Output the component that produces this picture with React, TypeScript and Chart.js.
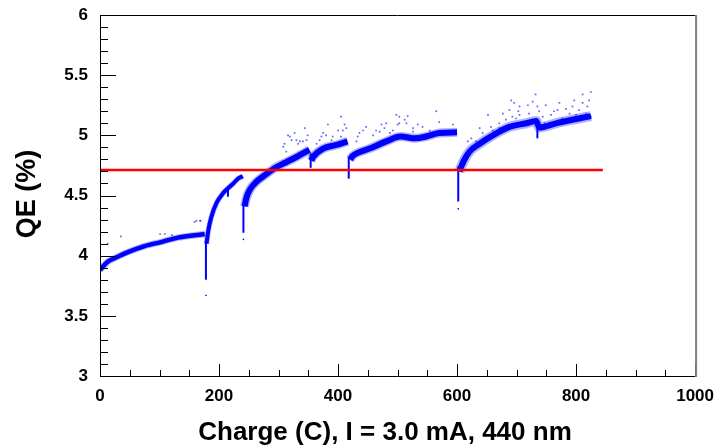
import React, { useEffect, useRef } from "react";
import { Chart, registerables } from "chart.js";
Chart.register(...registerables);

// ---- axes ----
const xMin = 0;
const xMax = 1000;
const xMajorStep = 200;
const xMinorStep = 50;
const yMin = 3;
const yMax = 6;
const yMajorStep = 0.5;
const yMinorStep = 0.1;
const xTitle = "Charge (C), I = 3.0 mA, 440 nm";
const yTitle = "QE (%)";

// ---- main band, one array pair per run ----
const seg1Charge = [0, 5, 13, 25, 47, 75, 104, 131, 159, 176];
const seg1QE = [3.88, 3.91, 3.95, 3.98, 4.03, 4.08, 4.115, 4.15, 4.17, 4.18];

const seg2Charge = [179, 182, 187, 196, 207, 215, 224, 232, 240];
const seg2QE = [4.1, 4.21, 4.32, 4.44, 4.52, 4.56, 4.6, 4.64, 4.66];

const seg3Charge = [243, 246, 252, 263, 280, 296, 310, 330, 352];
const seg3QE = [4.41, 4.48, 4.55, 4.615, 4.68, 4.735, 4.77, 4.82, 4.88];

const seg4Charge = [355, 358, 375, 397, 416];
const seg4QE = [4.79, 4.82, 4.89, 4.92, 4.95];

const seg5Charge = [420, 425, 431, 453, 481, 505, 530, 548, 570, 600];
const seg5QE = [4.8, 4.83, 4.85, 4.89, 4.95, 4.99, 4.975, 4.99, 5.02, 5.025];

const seg6Charge = [604, 607, 612, 621, 638, 660, 688, 716, 733, 738, 766, 794, 825];
const seg6QE = [4.7, 4.74, 4.795, 4.865, 4.93, 5.0, 5.07, 5.1, 5.12, 5.065, 5.1, 5.13, 5.16];

const segments = [
  { charge: seg1Charge, qe: seg1QE },
  { charge: seg2Charge, qe: seg2QE },
  { charge: seg3Charge, qe: seg3QE },
  { charge: seg4Charge, qe: seg4QE },
  { charge: seg5Charge, qe: seg5QE },
  { charge: seg6Charge, qe: seg6QE },
];

// ---- sharp dips at the start of runs ----
const spikeCharge = [178, 215, 241, 354, 418, 602, 735];
const spikeLow = [3.8, 4.49, 4.19, 4.73, 4.64, 4.45, 4.975];
const spikeHigh = [4.12, 4.56, 4.42, 4.85, 4.82, 4.74, 5.12];

// ---- isolated low points ----
const lowCharge = [178, 241, 602];
const lowQE = [3.67, 4.135, 4.39];

// ---- scattered points above the band ----
const strayCharge = [
  13, 35, 101, 109, 121, 159, 162, 168, 169,
  308, 310, 313, 316, 319, 322, 327, 330, 333, 336, 341, 344, 347, 349, 364, 369, 372, 375,
  380, 383, 389, 391, 400, 405, 405, 408, 411, 414,
  431, 433, 436, 442, 447, 459, 464, 470, 473, 478, 481, 487, 492, 498, 500, 503, 503,
  512, 515, 517, 526, 526, 534, 542, 554, 565, 570, 593,
  618, 624, 632, 638, 643, 652, 657, 660, 671, 671, 677, 682, 688, 691, 693, 696, 699,
  703, 705, 705, 710, 719, 721, 724, 727, 732, 735, 738,
  744, 747, 749, 758, 763, 769, 772, 777, 783, 789, 794, 797, 800, 805, 811, 811,
  817, 819, 822, 825, 825,
];
const strayQE = [
  4.1, 4.16, 4.18, 4.18, 4.17, 4.28, 4.29, 4.29, 4.29,
  4.905, 4.93, 4.865, 5.0, 4.99, 4.96, 5.02, 4.96, 4.93, 4.95, 4.95, 5.06, 4.96, 5.0, 4.93, 4.96, 4.99, 5.02,
  5.0, 5.09, 4.96, 4.99, 5.04, 5.155, 4.99, 5.04, 5.09, 5.06,
  4.95, 4.99, 5.02, 5.04, 5.07, 5.0, 5.04, 5.03, 5.09, 5.06, 5.1, 5.02, 5.04, 5.17, 5.09, 5.155, 5.1,
  5.13, 5.1, 5.16, 5.03, 5.06, 5.09, 5.07, 5.04, 5.2, 5.11, 5.09,
  4.95, 4.975, 4.95, 5.06, 5.02, 5.17, 5.07, 5.04, 5.1, 5.06, 5.18, 5.13, 5.21, 5.29, 5.155, 5.27, 5.14,
  5.2, 5.24, 5.17, 5.11, 5.25, 5.18, 5.1, 5.28, 5.34, 5.24, 5.2,
  5.155, 5.1, 5.25, 5.17, 5.2, 5.21, 5.27, 5.14, 5.22, 5.18, 5.24, 5.29, 5.17, 5.21, 5.27, 5.34,
  5.18, 5.24, 5.29, 5.36, 5.155,
];

// ---- reference level ----
const refCharge = [0, 845];
const refQE = [4.712, 4.712];

const coreWidths = [4.5, 4, 6, 6, 6, 6];
const haloWidths = [6.5, 5.5, 9, 9, 9, 10];

const FONT = "'Liberation Sans', Arial, Helvetica, sans-serif";

const rootFrame = {
  id: "rootFrame",
  afterDatasetsDraw(chart: any) {
    const { ctx, chartArea: a, scales } = chart;
    const xs = scales.x;
    const ys = scales.y;
    ctx.save();
    ctx.strokeStyle = "#000";
    ctx.lineWidth = 1;
    for (let i = 0; i <= Math.round((yMax - yMin) / yMinorStep); i++) {
      const v = yMin + i * yMinorStep;
      const major = Math.abs(v / yMajorStep - Math.round(v / yMajorStep)) < 1e-6;
      const py = Math.round(ys.getPixelForValue(v)) + 0.5;
      ctx.beginPath();
      ctx.moveTo(a.left, py);
      ctx.lineTo(a.left + (major ? 16 : 8), py);
      ctx.stroke();
    }
    for (let i = 0; i <= Math.round((xMax - xMin) / xMinorStep); i++) {
      const v = xMin + i * xMinorStep;
      const major = v % xMajorStep === 0;
      const px = Math.round(xs.getPixelForValue(v)) + 0.5;
      ctx.beginPath();
      ctx.moveTo(px, a.bottom);
      ctx.lineTo(px, a.bottom - (major ? 12 : 6));
      ctx.stroke();
    }
    ctx.beginPath();
    ctx.moveTo(a.left + 0.5, a.top);
    ctx.lineTo(a.left + 0.5, a.bottom + 0.5);
    ctx.lineTo(a.right, a.bottom + 0.5);
    ctx.moveTo(a.left, a.top + 0.5);
    ctx.lineTo(a.right, a.top + 0.5);
    ctx.stroke();
    ctx.strokeStyle = "#808080";
    ctx.lineWidth = 2;
    ctx.beginPath();
    ctx.moveTo(a.right + 1, a.top);
    ctx.lineTo(a.right + 1, a.bottom + 1);
    ctx.stroke();
    ctx.restore();
  },
  afterDraw(chart: any) {
    const { ctx } = chart;
    ctx.save();
    ctx.fillStyle = "#000";
    ctx.font = `bold 26px ${FONT}`;
    ctx.textAlign = "center";
    ctx.textBaseline = "alphabetic";
    ctx.fillText(xTitle, 385, 440);
    ctx.translate(35, 194);
    ctx.rotate(-Math.PI / 2);
    ctx.font = `bold 27px ${FONT}`;
    ctx.fillText(yTitle, 0, 0);
    ctx.restore();
  },
};

export default function App() {
  const ref = useRef<HTMLCanvasElement | null>(null);
  useEffect(() => {
    if (!ref.current) return;
    const datasets: any[] = [];
    datasets.push({
      type: "line",
      data: refCharge.map((c, i) => ({ x: c, y: refQE[i] })),
      borderColor: "#ff0000",
      borderWidth: 2.5,
      pointRadius: 0,
      order: 0,
    });
    segments.forEach((s, k) => {
      const pts = s.charge.map((c, i) => ({ x: c, y: s.qe[i] }));
      datasets.push({
        type: "line",
        data: pts,
        borderColor: "rgba(0,0,255,0.3)",
        borderWidth: haloWidths[k],
        pointRadius: 0,
        cubicInterpolationMode: "monotone",
        order: 3,
      });
      datasets.push({
        type: "line",
        data: pts,
        borderColor: "#0000ff",
        borderWidth: coreWidths[k],
        pointRadius: 0,
        cubicInterpolationMode: "monotone",
        order: 2,
      });
    });
    spikeCharge.forEach((c, i) => {
      datasets.push({
        type: "line",
        data: [
          { x: c, y: spikeLow[i] },
          { x: c, y: spikeHigh[i] },
        ],
        borderColor: "#0000ff",
        borderWidth: 2,
        pointRadius: 0,
        order: 2,
      });
    });
    datasets.push({
      type: "scatter",
      data: lowCharge.map((c, i) => ({ x: c, y: lowQE[i] })),
      pointStyle: "rect",
      pointRadius: 1,
      borderWidth: 0,
      backgroundColor: "#0000ff",
      order: 2,
    });
    datasets.push({
      type: "scatter",
      data: strayCharge.map((c, i) => ({ x: c, y: strayQE[i] })),
      pointStyle: "rect",
      pointRadius: 1.2,
      borderWidth: 0,
      backgroundColor: "rgba(30,30,255,0.7)",
      order: 4,
    });

    const chart = new Chart(ref.current, {
      type: "line",
      data: { datasets },
      options: {
        animation: false,
        responsive: false,
        devicePixelRatio: 1,
        layout: { padding: { top: 15, right: 20, left: 0, bottom: 0 } },
        plugins: { legend: { display: false }, tooltip: { enabled: false } },
        scales: {
          x: {
            type: "linear",
            min: xMin,
            max: xMax,
            grid: { display: false },
            border: { display: false },
            ticks: {
              stepSize: xMajorStep,
              padding: 2,
              color: "#000",
              maxRotation: 0,
              font: { family: FONT, size: 17, weight: "bold" },
              callback: (v: any) => String(v),
            },
            afterFit: (s: any) => {
              s.height = 69;
            },
          },
          y: {
            type: "linear",
            min: yMin,
            max: yMax,
            grid: { display: false },
            border: { display: false },
            ticks: {
              stepSize: yMajorStep,
              padding: 4,
              color: "#000",
              font: { family: FONT, size: 17, weight: "bold" },
              callback: (v: any) => String(Math.round(v * 10) / 10),
            },
            afterFit: (s: any) => {
              s.width = 100;
            },
          },
        },
      },
      plugins: [rootFrame],
    });
    return () => chart.destroy();
  }, []);
  return (
    <div style={{ position: "absolute", left: 0, top: 0, width: 716, height: 445, background: "#fff" }}>
      <canvas ref={ref} width={716} height={445} style={{ width: 716, height: 445, display: "block" }} />
    </div>
  );
}
